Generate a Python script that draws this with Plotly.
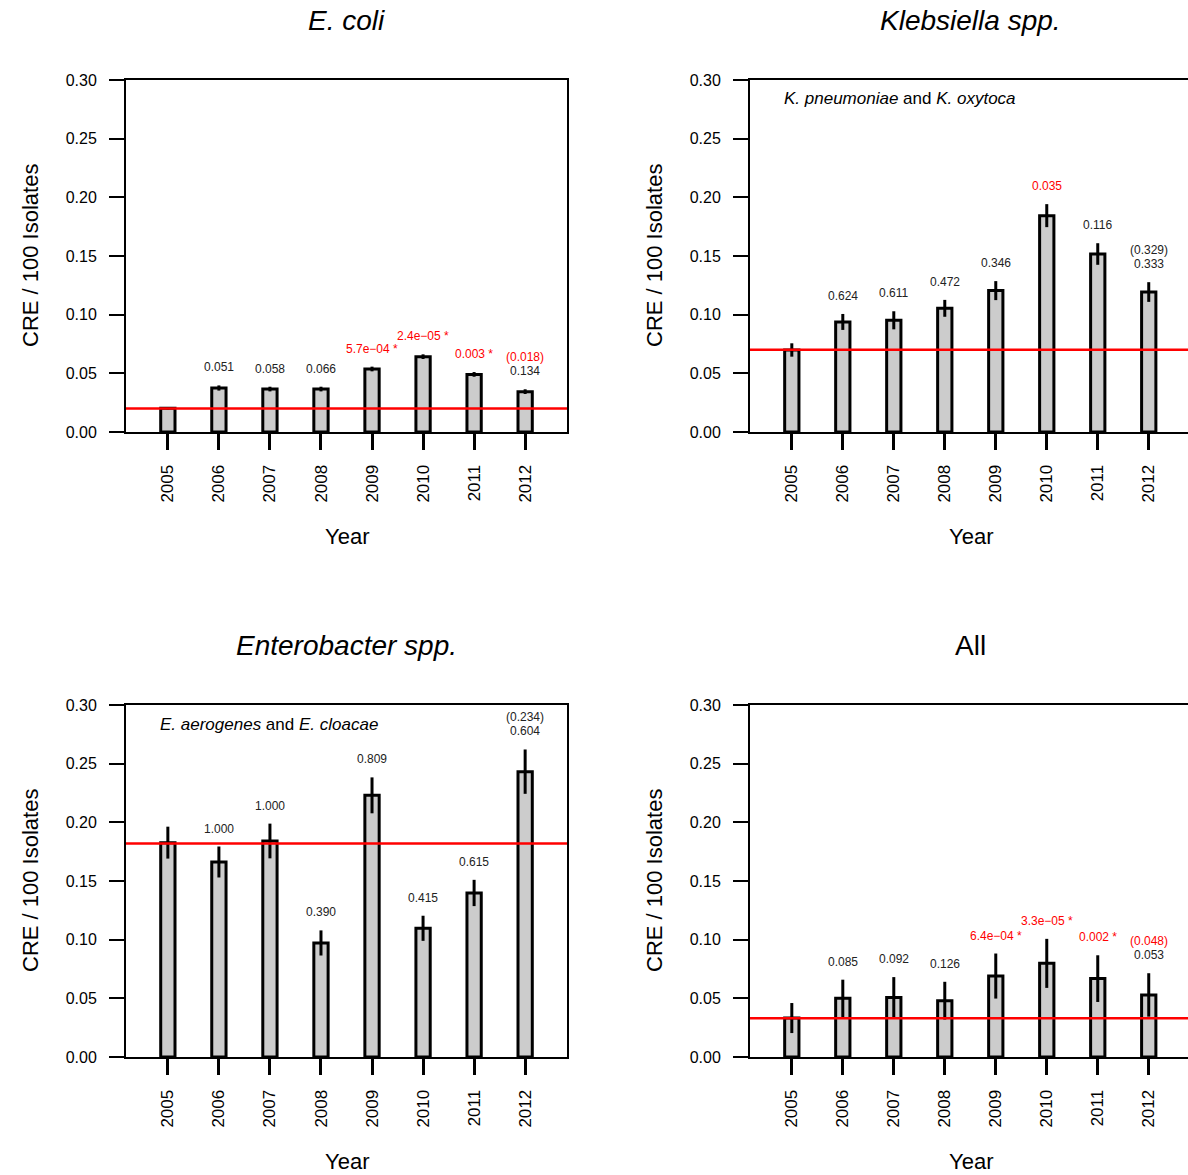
import plotly.graph_objects as go

years = ["2005", "2006", "2007", "2008", "2009", "2010", "2011", "2012"]

# E. coli
ecoli_rate = [0.0202, 0.0375, 0.0366, 0.0366, 0.0537, 0.0642, 0.0491, 0.0344]
ecoli_err = [0.0010, 0.0022, 0.0020, 0.0020, 0.0020, 0.0020, 0.0020, 0.0020]
ecoli_p = ["", "0.051", "0.058", "0.066", "5.7e\u221204 *", "2.4e\u221205 *", "0.003 *", "0.134"]
ecoli_p_red = [False, False, False, False, True, True, True, False]
ecoli_trend = ["", "", "", "", "", "", "", "(0.018)"]
ecoli_trend_red = [False, False, False, False, False, False, False, True]
ecoli_base = 0.020

# Klebsiella spp.
kleb_rate = [0.0699, 0.0938, 0.0952, 0.1054, 0.1205, 0.1844, 0.1517, 0.1193]
kleb_err = [0.0057, 0.0068, 0.0077, 0.0072, 0.0081, 0.0098, 0.0092, 0.0084]
kleb_p = ["", "0.624", "0.611", "0.472", "0.346", "0.035", "0.116", "0.333"]
kleb_p_red = [False, False, False, False, False, True, False, False]
kleb_trend = ["", "", "", "", "", "", "", "(0.329)"]
kleb_trend_red = [False] * 8
kleb_base = 0.070

# Enterobacter spp.
ent_rate = [0.1827, 0.1662, 0.1841, 0.0972, 0.2230, 0.1097, 0.1398, 0.2432]
ent_err = [0.0136, 0.0132, 0.0148, 0.0107, 0.0153, 0.0107, 0.0112, 0.0189]
ent_p = ["", "1.000", "1.000", "0.390", "0.809", "0.415", "0.615", "0.604"]
ent_p_red = [False] * 8
ent_trend = ["", "", "", "", "", "", "", "(0.234)"]
ent_trend_red = [False] * 8
ent_base = 0.182

# All
all_rate = [0.0332, 0.0500, 0.0508, 0.0480, 0.0690, 0.0798, 0.0668, 0.0529]
all_err = [0.0128, 0.0159, 0.0173, 0.0161, 0.0192, 0.0209, 0.0199, 0.0185]
all_p = ["", "0.085", "0.092", "0.126", "6.4e\u221204 *", "3.3e\u221205 *", "0.002 *", "0.053"]
all_p_red = [False, False, False, False, True, True, True, False]
all_trend = ["", "", "", "", "", "", "", "(0.048)"]
all_trend_red = [False, False, False, False, False, False, False, True]
all_base = 0.033

titles = ["<i>E. coli</i>", "<i>Klebsiella spp.</i>", "<i>Enterobacter spp.</i>", "All"]
subtitles = ["", "<i>K. pneumoniae</i> and <i>K. oxytoca</i>",
             "<i>E. aerogenes</i> and <i>E. cloacae</i>", ""]

yticks = [0.0, 0.05, 0.10, 0.15, 0.20, 0.25, 0.30]

W, H = 1188, 1175
FONT = "Liberation Sans, Arial, sans-serif"
RED = "#FF0000"
TXT = "#222222"

def px(x):
    return min(x / W, 1.0)

def py(y):
    return 1 - y / H

panels = [
    dict(rate=ecoli_rate, err=ecoli_err, p=ecoli_p, pr=ecoli_p_red, t=ecoli_trend, tr=ecoli_trend_red, base=ecoli_base,
         box=(126, 567, 80, 432), xr=[-0.82, 7.82], mirror_y=True),
    dict(rate=kleb_rate, err=kleb_err, p=kleb_p, pr=kleb_p_red, t=kleb_trend, tr=kleb_trend_red, base=kleb_base,
         box=(750, 1188, 80, 432), xr=[-0.82, 7.77], mirror_y=False),
    dict(rate=ent_rate, err=ent_err, p=ent_p, pr=ent_p_red, t=ent_trend, tr=ent_trend_red, base=ent_base,
         box=(126, 567, 705, 1057), xr=[-0.82, 7.82], mirror_y=True),
    dict(rate=all_rate, err=all_err, p=all_p, pr=all_p_red, t=all_trend, tr=all_trend_red, base=all_base,
         box=(750, 1188, 705, 1057), xr=[-0.82, 7.77], mirror_y=False),
]

fig = go.Figure()
annotations = []
shapes = []
xs = list(range(len(years)))

for i, pn in enumerate(panels):
    k = "" if i == 0 else str(i + 1)
    xa, ya = "x" + k, "y" + k
    x0, x1, y0, y1 = pn["box"]
    fig.add_trace(go.Bar(
        x=xs, y=pn["rate"], width=0.28, xaxis=xa, yaxis=ya,
        marker=dict(color="#CCCCCC", line=dict(color="black", width=3)),
        error_y=dict(type="data", array=pn["err"], visible=True, thickness=3, width=0, color="black"),
        showlegend=False, hoverinfo="skip",
    ))
    shapes.append(dict(type="line", xref=xa + " domain", yref=ya, x0=0, x1=1,
                       y0=pn["base"], y1=pn["base"], line=dict(color=RED, width=2.5), layer="above"))
    for j in xs:
        top = pn["rate"][j] + pn["err"][j]
        if pn["p"][j]:
            annotations.append(dict(x=j, y=top, xref=xa, yref=ya, text=pn["p"][j], showarrow=False,
                                    yshift=18, yanchor="middle",
                                    font=dict(family=FONT, size=12, color=RED if pn["pr"][j] else TXT)))
        if pn["t"][j]:
            annotations.append(dict(x=j, y=top, xref=xa, yref=ya, text=pn["t"][j], showarrow=False,
                                    yshift=32, yanchor="middle",
                                    font=dict(family=FONT, size=12, color=RED if pn["tr"][j] else TXT)))
    cx = 126 + 220.5 if x0 < 600 else 750 + 220.5
    annotations.append(dict(x=px(cx), y=py(y0 - 60), xref="paper", yref="paper", text=titles[i],
                            showarrow=False, xanchor="center", yanchor="middle",
                            font=dict(family=FONT, size=28, color="black")))
    annotations.append(dict(x=px(x0 - 96), y=py((y0 + y1) / 2), xref="paper", yref="paper",
                            text="CRE / 100 Isolates", textangle=-90, showarrow=False,
                            xanchor="center", yanchor="middle",
                            font=dict(family=FONT, size=22, color="black")))
    annotations.append(dict(x=px(cx), y=py(y1 + 104), xref="paper", yref="paper", text="Year",
                            showarrow=False, xanchor="center", yanchor="middle",
                            font=dict(family=FONT, size=22, color="black")))
    if subtitles[i]:
        annotations.append(dict(x=px(x0 + 32), y=py(y0 + 19), xref="paper", yref="paper", text=subtitles[i],
                                showarrow=False, xanchor="left", yanchor="middle",
                                font=dict(family=FONT, size=17, color="black")))
    fig.update_layout(**{
        "xaxis" + k: dict(domain=[px(x0), px(x1)], range=pn["xr"], anchor=ya,
                          tickmode="array", tickvals=xs, ticktext=years, tickangle=-90,
                          ticks="outside", ticklen=16, tickwidth=3, tickcolor="black",
                          showline=True, linecolor="black", linewidth=2, mirror=True,
                          showgrid=False, zeroline=False, ticklabelstandoff=8, automargin=False,
                          tickfont=dict(family=FONT, size=17, color="black")),
        "yaxis" + k: dict(domain=[py(y1), py(y0)], range=[0, 0.30], anchor=xa,
                          tickmode="array", tickvals=yticks, tickformat=".2f",
                          ticks="outside", ticklen=15, tickwidth=2, tickcolor="black",
                          showline=True, linecolor="black", linewidth=2, mirror=pn["mirror_y"],
                          showgrid=False, zeroline=False, ticklabelstandoff=9, automargin=False,
                          tickfont=dict(family=FONT, size=16, color="black")),
    })

fig.update_layout(width=W, height=H, margin=dict(l=0, r=0, t=0, b=0, autoexpand=False),
                  paper_bgcolor="white", plot_bgcolor="white",
                  annotations=annotations, shapes=shapes, bargap=0)

fig.write_html("out.html", config={"displayModeBar": False, "staticPlot": True},
               post_script="document.body.style.margin='0px';document.body.style.padding='0px';")
